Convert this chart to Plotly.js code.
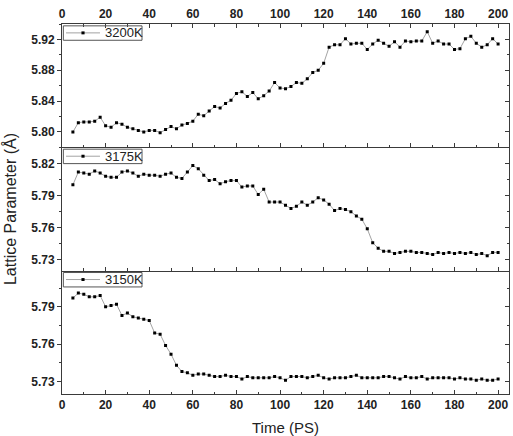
<!DOCTYPE html>
<html>
<head>
<meta charset="utf-8">
<script src="https://cdn.plot.ly/plotly-3.0.1.min.js"></script>
<style>html,body{margin:0;padding:0;background:#fff}#chart{width:513px;height:436px}</style>
</head>
<body>
<div id="chart"></div>
<script>
const time = [5,7.5,10,12.5,15,17.5,20,22.5,25,27.5,30,32.5,35,37.5,40,42.5,45,47.5,50,52.5,
  55,57.5,60,62.5,65,67.5,70,72.5,75,77.5,80,82.5,85,87.5,90,92.5,95,97.5,100,102.5,
  105,107.5,110,112.5,115,117.5,120,122.5,125,127.5,130,132.5,135,137.5,140,142.5,145,147.5,150,152.5,
  155,157.5,160,162.5,165,167.5,170,172.5,175,177.5,180,182.5,185,187.5,190,192.5,195,197.5,200];

const labels = ['3200K','3175K','3150K'];

const a3200 = [5.800,5.812,5.813,5.813,5.814,5.819,5.808,5.806,5.812,5.810,
  5.806,5.804,5.802,5.800,5.802,5.802,5.799,5.803,5.807,5.804,
  5.809,5.811,5.814,5.823,5.821,5.827,5.833,5.831,5.837,5.841,
  5.850,5.852,5.846,5.851,5.843,5.847,5.853,5.864,5.857,5.856,
  5.859,5.864,5.863,5.869,5.877,5.880,5.889,5.910,5.913,5.913,
  5.921,5.914,5.915,5.915,5.907,5.914,5.919,5.915,5.911,5.917,
  5.910,5.918,5.917,5.918,5.918,5.930,5.915,5.918,5.914,5.914,
  5.907,5.908,5.921,5.924,5.915,5.910,5.913,5.921,5.914];

const a3175 = [5.800,5.812,5.811,5.810,5.813,5.811,5.808,5.807,5.807,5.812,
  5.813,5.811,5.808,5.810,5.809,5.809,5.808,5.810,5.811,5.807,
  5.806,5.812,5.818,5.815,5.809,5.804,5.805,5.801,5.803,5.804,
  5.804,5.798,5.799,5.799,5.791,5.796,5.784,5.784,5.784,
  5.781,5.778,5.780,5.784,5.781,5.784,5.788,5.786,
  5.782,5.776,5.778,5.777,5.775,5.771,5.768,5.759,
  5.746,5.741,5.738,5.738,5.736,5.737,5.738,5.738,5.737,5.737,
  5.736,5.735,5.737,5.736,5.737,5.736,5.737,5.736,5.737,5.735,
  5.736,5.734,5.737,5.737];

const a3150 = [5.797,5.801,5.800,5.798,5.798,5.799,
  5.790,5.791,5.792,5.783,
  5.785,5.782,5.781,5.780,
  5.779,5.769,5.768,5.759,
  5.752,5.743,5.738,5.737,
  5.735,5.736,5.736,5.735,
  5.734,5.734,5.735,5.734,
  5.734,5.732,5.734,5.733,
  5.733,5.733,5.733,5.734,
  5.733,5.731,5.734,5.734,
  5.734,5.733,5.734,5.735,
  5.733,5.732,5.733,5.733,
  5.733,5.734,5.735,5.733,
  5.733,5.733,5.733,5.734,
  5.734,5.733,5.732,5.734,
  5.733,5.733,5.734,5.732,
  5.733,5.733,5.733,5.733,
  5.732,5.733,5.732,5.732,
  5.731,5.732,5.731,5.731,
  5.732];

const series = [a3200, a3175, a3150];
const xs = ['x','x2','x3'];
const ys = ['y','y2','y3'];

const lineColor = '#a3a3a3';
const axColor = '#3a3a3a';
const tickFont = {family:'Liberation Sans, Arial, sans-serif', size:12, color:'#222', weight:'bold'};

const traces = series.map((vals, i) => ({
  type:'scatter', mode:'lines+markers', name:labels[i],
  x: time, y: vals, xaxis: xs[i], yaxis: ys[i],
  line:{color:lineColor, width:1},
  marker:{symbol:'square', size:3, color:'#000'},
  showlegend:false, hoverinfo:'skip'
}));
// empty traces to host right-side overlay axes (inside ticks)
['y4','y5','y6'].forEach((ya, i) => traces.push({type:'scatter', x:[], y:[], xaxis: xs[i], yaxis: ya, showlegend:false}));

const xRange = [0, 205];
function xAx(opts){
  return Object.assign({
    range:xRange, dtick:20, tick0:0, ticks:'inside', ticklen:4, tickcolor:axColor,
    minor:{ticks:'inside', ticklen:2.5, dtick:10, tickcolor:axColor},
    showline:true, linecolor:axColor, linewidth:1, mirror:false,
    showgrid:false, zeroline:false, tickfont:tickFont, fixedrange:true
  }, opts);
}
function yAx(range, dtick, tick0, domain, anchor){
  return {
    range:range, dtick:dtick, tick0:tick0, tickformat:'.2f', domain:domain, anchor:anchor,
    ticks:'outside', ticklen:4, tickcolor:axColor,
    minor:{ticks:'outside', ticklen:2.5, dtick:dtick/2, tickcolor:axColor},
    showline:true, linecolor:axColor, linewidth:1,
    showgrid:false, zeroline:false, tickfont:tickFont, fixedrange:true
  };
}
function yOver(base, over, anchor){
  return {
    range:base.range, dtick:base.dtick, tick0:base.tick0, overlaying:over, side:'right', anchor:anchor,
    ticks:'inside', ticklen:4, tickcolor:axColor,
    minor:{ticks:'inside', ticklen:2.5, dtick:base.dtick/2, tickcolor:axColor},
    showline:true, linecolor:axColor, linewidth:1, showticklabels:false,
    showgrid:false, zeroline:false, fixedrange:true
  };
}

const y1 = yAx([5.78, 5.94], 0.04, 5.80, [2/3, 1], 'x');
const y2 = yAx([5.72, 5.835], 0.03, 5.73, [1/3, 2/3], 'x2');
const y3 = yAx([5.72, 5.819], 0.03, 5.73, [0, 1/3], 'x3');
y2.title = {text:'Lattice Parameter (Å)', font:{family:'Liberation Sans, Arial, sans-serif', size:16, color:'#222'}, standoff:10};

const shapes = [];
const annotations = [];
labels.forEach((lab, i) => {
  const xr = xs[i] + ' domain', yr = ys[i] + ' domain';
  const ymid = 0.928;
  shapes.push({type:'rect', xref:xr, yref:yr, x0:0.003, x1:0.179, y0:0.868, y1:0.985,
    line:{color:'#555', width:1}, fillcolor:'rgba(255,255,255,0)'});
  shapes.push({type:'line', xref:xr, yref:yr, x0:0.009, x1:0.085, y0:ymid, y1:ymid,
    line:{color:lineColor, width:1}});
  shapes.push({type:'rect', xref:xr, yref:yr, x0:0.0435, x1:0.0505, y0:ymid-0.012, y1:ymid+0.012,
    line:{width:0}, fillcolor:'#000'});
  annotations.push({xref:xr, yref:yr, x:0.091, y:ymid, xanchor:'left', yanchor:'middle',
    text:lab, showarrow:false, font:{family:'Liberation Sans, Arial, sans-serif', size:13, color:'#222'}});
});

const layout = {
  width:513, height:436,
  margin:{l:62, r:4, t:24, b:42, pad:0},
  paper_bgcolor:'#fff', plot_bgcolor:'#fff',
  showlegend:false,
  xaxis: xAx({anchor:'y', side:'top', mirror:'ticks'}),
  xaxis2: xAx({anchor:'y2', side:'bottom', showticklabels:false}),
  xaxis3: xAx({anchor:'y3', side:'bottom',
    title:{text:'Time (PS)', font:{family:'Liberation Sans, Arial, sans-serif', size:15, color:'#222'}, standoff:11}}),
  yaxis: y1, yaxis2: y2, yaxis3: y3,
  yaxis4: yOver(y1, 'y', 'x'),
  yaxis5: yOver(y2, 'y2', 'x2'),
  yaxis6: yOver(y3, 'y3', 'x3'),
  shapes: shapes, annotations: annotations
};

Plotly.newPlot('chart', traces, layout, {displayModeBar:false, staticPlot:true});
</script>
</body>
</html>
